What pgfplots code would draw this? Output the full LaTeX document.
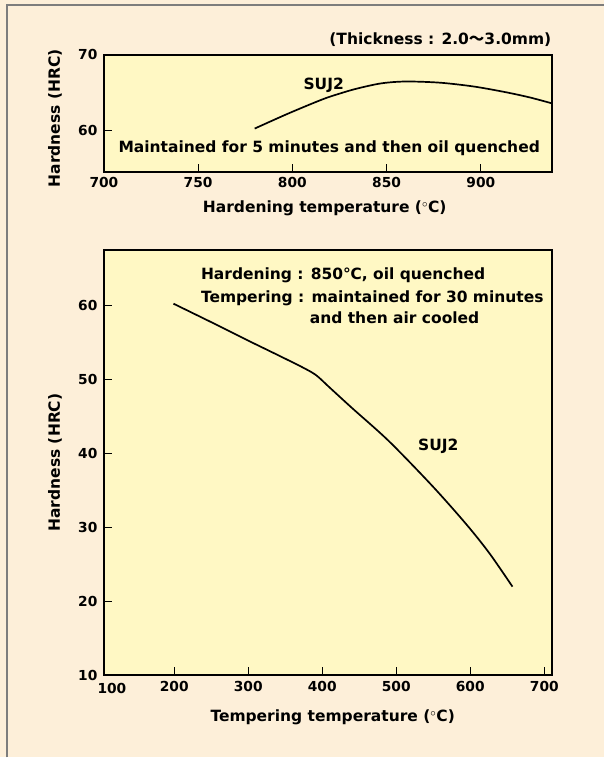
\documentclass[border=0pt]{standalone}
\usepackage{pgfplots}
\pgfplotsset{compat=1.18}
\usepackage{fontspec}
\setmainfont{DejaVu Sans}
\newfontfamily\cjk{Noto Sans CJK JP}
\definecolor{outerbg}{RGB}{253,239,217}
\definecolor{innerbg}{RGB}{255,248,196}
\definecolor{framegray}{RGB}{125,125,125}
\newcommand{\annfont}{\fontsize{15.5}{18}\selectfont\bfseries}
\newcommand{\tickfont}{\fontsize{13.8}{16}\selectfont\bfseries}
\pgfplotsset{
  myaxis/.style={
    scale only axis, width=449pt, anchor=south west,
    axis background/.style={fill=innerbg},
    axis line style={line width=2pt},
    tick align=inside, xtick pos=bottom, ytick pos=left,
    major tick length=8pt,
    every tick/.style={black, line width=1pt},
    tick label style={font=\tickfont},
    xticklabel style={yshift=-2.4pt},
    yticklabel style={xshift=-3pt},
    /pgf/number format/assume math mode=true,
    /pgf/number format/1000 sep={},
  }
}
\begin{document}
\begin{tikzpicture}[x=1pt,y=1pt]
\fill[outerbg] (0pt,0pt) rectangle (605pt,758pt);
\draw[framegray,line width=1.5pt] (7pt,0pt) -- (7pt,753pt) -- (605pt,753pt);

% top axis
\begin{axis}[myaxis, at={(104pt,586pt)}, height=117pt,
  xmin=700, xmax=938, ymin=54.6, ymax=70,
  xtick={700,750,800,850,900}, ytick={60,70}]
\addplot[black, line width=1.7pt, smooth, tension=0.5] coordinates {
 (780,60.3) (798,62.3) (816,64.15) (825,64.9) (834,65.55) (847,66.25) (860,66.5)
 (878,66.35) (896,65.85) (913,65.1) (926,64.4) (938,63.6)};
\end{axis}

% bottom axis
\begin{axis}[myaxis, at={(104pt,82pt)}, height=426pt,
  xmin=105, xmax=711, ymin=10, ymax=67.6,
  xtick={200,300,400,500,600,700}, ytick={10,20,30,40,50,60}]
\addplot[black, line width=1.7pt, smooth, tension=0.5] coordinates {
 (199,60.3) (250,57.8) (298,55.4) (343,53.2) (375,51.6) (392,50.6) (410,48.95) (440,46.2)
 (490,41.7) (549,35.6) (595,30.4) (626,26.5) (657,22.0)};
\end{axis}

% labels and annotations
\node[rotate=90, font=\annfont] at (55pt,639.5pt) {Hardness (HRC)};
\node[anchor=base, font=\annfont] at (325pt,545pt) {Hardening temperature ($^\circ$C)};
\node[rotate=90, font=\annfont] at (55pt,295pt) {Hardness (HRC)};
\node[anchor=base, font=\annfont] at (333pt,35.3pt) {Tempering temperature ($^\circ$C)};
\node[anchor=base east, font=\annfont, inner sep=0pt] at (552pt,713pt) {(Thickness : 2.0{\cjk ～}3.0mm)};
\node[anchor=base, font=\annfont, inner sep=0pt] at (329.5pt,605pt) {Maintained for 5 minutes and then oil quenched};
\node[anchor=base, font=\annfont, inner sep=0pt] at (324pt,668pt) {SUJ2};
\node[anchor=base west, font=\annfont, inner sep=0pt] at (201pt,478.5pt) {Hardening : 850℃, oil quenched};
\node[anchor=base west, font=\annfont, inner sep=0pt] at (201pt,455.5pt) {Tempering : maintained for 30 minutes};
\node[anchor=base west, font=\annfont, inner sep=0pt] at (310pt,434pt) {and then air cooled};
\node[anchor=base, font=\annfont, inner sep=0pt] at (438.7pt,307pt) {SUJ2};
\node[font=\tickfont] at (112pt,69pt) {100};
\end{tikzpicture}
\end{document}
